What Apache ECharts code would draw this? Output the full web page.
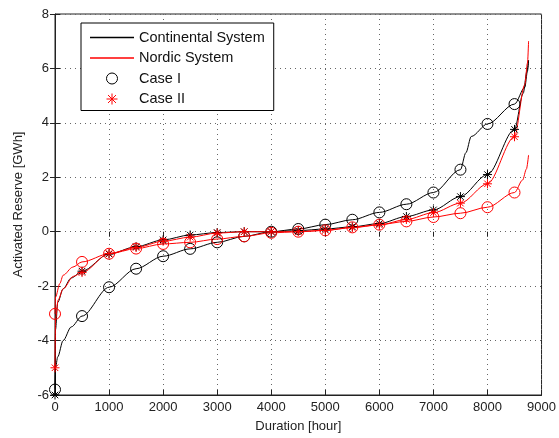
<!DOCTYPE html>
<html>
<head>
<meta charset="utf-8">
<script src="https://cdn.jsdelivr.net/npm/echarts@6/dist/echarts.min.js"></script>
<style>
  html, body { margin: 0; padding: 0; background: #fff; }
  #chart { width: 559px; height: 438px; }
</style>
</head>
<body>
<div id="chart"></div>
<script>
// [hour, GWh] duration curves, markers are drawn on every 500 h point
var continentalCase1 = [[0, -5.8], [10, -5.0], [50, -4.6], [150, -4.0], [300, -3.5], [500, -3.1], [1000, -2.04], [1500, -1.36], [2000, -0.9], [2500, -0.63], [3000, -0.39], [3500, -0.17], [4000, 0.0], [4500, 0.1], [5000, 0.26], [5500, 0.44], [6000, 0.71], [6500, 1.01], [7000, 1.44], [7500, 2.28], [7600, 2.9], [7700, 3.5], [8000, 3.96], [8500, 4.69], [8690, 5.3], [8740, 5.9], [8760, 6.3]]
var continentalCase2 = [[0, -6.0], [10, -3.6], [50, -2.6], [150, -2.1], [300, -1.7], [500, -1.45], [1000, -0.82], [1500, -0.55], [2000, -0.3], [2500, -0.12], [3000, -0.03], [3500, 0.0], [4000, 0.0], [4500, 0.04], [5000, 0.1], [5500, 0.18], [6000, 0.3], [6500, 0.56], [7000, 0.8], [7500, 1.29], [8000, 2.1], [8500, 3.76], [8660, 5.08], [8730, 5.9], [8760, 6.3]]
var nordicCase1 = [[0, -3.02], [10, -2.4], [90, -1.9], [150, -1.6], [330, -1.3], [500, -1.11], [1000, -0.81], [1500, -0.62], [2000, -0.45], [2500, -0.39], [3000, -0.27], [3500, -0.17], [4000, -0.04], [4500, 0.0], [5000, 0.05], [5500, 0.16], [6000, 0.26], [6500, 0.38], [7000, 0.54], [7500, 0.68], [8000, 0.9], [8500, 1.44], [8650, 1.9], [8720, 2.3], [8760, 2.82]]
var nordicCase2 = [[0, -5.0], [10, -3.2], [60, -2.5], [150, -2.1], [340, -1.64], [500, -1.5], [1000, -0.8], [1500, -0.58], [2000, -0.35], [2500, -0.2], [3000, -0.05], [3500, 0.0], [4000, 0.0], [4500, 0.0], [5000, 0.05], [5500, 0.15], [6000, 0.25], [6500, 0.45], [7000, 0.7], [7500, 1.05], [8000, 1.76], [8500, 3.49], [8690, 5.4], [8740, 6.2], [8760, 7.0]]

var legendNames = ['Continental System', 'Nordic System', 'Case I', 'Case II']
var xTicks = [0, 9000, 1000]
var yTicks = [-6, 8, 2]

var FONT = 'Liberation Sans, Arial, sans-serif'
var asterisk = 'path://M0,-5L0,5M-5,0L5,0M-3.6,-3.6L3.6,3.6M-3.6,3.6L3.6,-3.6'
var lineIcon = 'path://M0,0H44V1.3H0Z'

function markers (curve) {
  return curve.filter(function (p) { return p[0] % 500 === 0 })
}

function curveSeries (name, data, color) {
  return {
    name: name,
    type: 'line',
    data: data,
    symbol: 'none',
    smooth: 0.3,
    smoothMonotone: 'x',
    lineStyle: { color: color, width: 1 },
    z: 2
  }
}

function markerSeries (name, data, color, symbol, size) {
  return {
    name: name,
    type: 'scatter',
    data: data,
    symbol: symbol,
    symbolSize: size,
    itemStyle: { color: 'rgba(0,0,0,0)', borderColor: color, borderWidth: 1, opacity: 1 },
    z: 3
  }
}

var chart = echarts.init(document.getElementById('chart'), null, { renderer: 'canvas' })

var tickAxis = {
  axisLine: { show: false },
  axisTick: { show: true, inside: true, length: 5, lineStyle: { color: '#222' } },
  axisLabel: { show: false },
  splitLine: { show: false }
}

var option = {
  animation: false,
  backgroundColor: '#fff',
  textStyle: { fontFamily: FONT },
  grid: {
    left: 55, right: 17, top: 14, bottom: 42,
    show: true, borderColor: '#222', borderWidth: 1
  },
  legend: {
    data: [
      { name: legendNames[0], icon: lineIcon, itemStyle: { color: '#000', borderWidth: 0 } },
      { name: legendNames[1], icon: lineIcon, itemStyle: { color: '#ff0000', borderWidth: 0 } },
      { name: legendNames[2], itemStyle: { color: 'rgba(0,0,0,0)', borderColor: '#000', borderWidth: 1 } },
      { name: legendNames[3], itemStyle: { color: 'rgba(0,0,0,0)', borderColor: '#ff0000', borderWidth: 1 } }
    ],
    orient: 'vertical',
    left: 81,
    top: 23,
    padding: [7, 9, 4, 9],
    itemWidth: 44,
    itemHeight: 11,
    itemGap: 5.5,
    backgroundColor: '#fff',
    borderColor: '#000',
    borderWidth: 1,
    borderRadius: 0,
    textStyle: { fontFamily: FONT, fontSize: 14.5, color: '#111' }
  },
  xAxis: [
    {
      type: 'value',
      min: xTicks[0], max: xTicks[1], interval: xTicks[2],
      name: 'Duration [hour]',
      nameLocation: 'middle',
      nameGap: 25,
      nameTextStyle: { fontFamily: FONT, fontSize: 13, color: '#222' },
      axisLine: { show: true, onZero: false, lineStyle: { color: '#222' } },
      axisTick: { inside: true, length: 5, lineStyle: { color: '#222' } },
      axisLabel: { fontFamily: FONT, fontSize: 13, color: '#222', margin: 6, formatter: function (v) { return String(v) } },
      splitLine: { show: true, lineStyle: { color: '#666', type: [1, 4], width: 1 } }
    },
    Object.assign({ type: 'value', position: 'top', min: xTicks[0], max: xTicks[1], interval: xTicks[2] }, tickAxis)
  ],
  yAxis: [
    {
      type: 'value',
      min: yTicks[0], max: yTicks[1], interval: yTicks[2],
      name: 'Activated Reserve [GWh]',
      nameLocation: 'middle',
      nameGap: 30,
      nameTextStyle: { fontFamily: FONT, fontSize: 13, color: '#222' },
      axisLine: { show: true, onZero: false, lineStyle: { color: '#222' } },
      axisTick: { inside: true, length: 5, lineStyle: { color: '#222' } },
      axisLabel: { fontFamily: FONT, fontSize: 13, color: '#222', margin: 6, formatter: function (v) { return String(v) } },
      splitLine: { show: true, lineStyle: { color: '#666', type: [1, 4], width: 1 } }
    },
    Object.assign({ type: 'value', position: 'right', min: yTicks[0], max: yTicks[1], interval: yTicks[2] }, tickAxis)
  ],
  series: [
    // legend only entries
    { name: legendNames[0], type: 'line', data: [], symbol: 'none', lineStyle: { color: '#000', width: 1 }, itemStyle: { color: '#000' } },
    { name: legendNames[1], type: 'line', data: [], symbol: 'none', lineStyle: { color: '#ff0000', width: 1 }, itemStyle: { color: '#ff0000' } },
    markerSeries(legendNames[2], [], '#000', 'circle', 10),
    markerSeries(legendNames[3], [], '#ff0000', asterisk, 9),

    curveSeries('cont1', continentalCase1, '#000'),
    curveSeries('cont2', continentalCase2, '#000'),
    curveSeries('nord1', nordicCase1, '#ff0000'),
    curveSeries('nord2', nordicCase2, '#ff0000'),
    markerSeries('cont1 m', markers(continentalCase1), '#000', 'circle', 11),
    markerSeries('cont2 m', markers(continentalCase2), '#000', asterisk, 9),
    markerSeries('nord1 m', markers(nordicCase1), '#ff0000', 'circle', 11),
    markerSeries('nord2 m', markers(nordicCase2), '#ff0000', asterisk, 9)
  ]
}

chart.setOption(option)
</script>
</body>
</html>
